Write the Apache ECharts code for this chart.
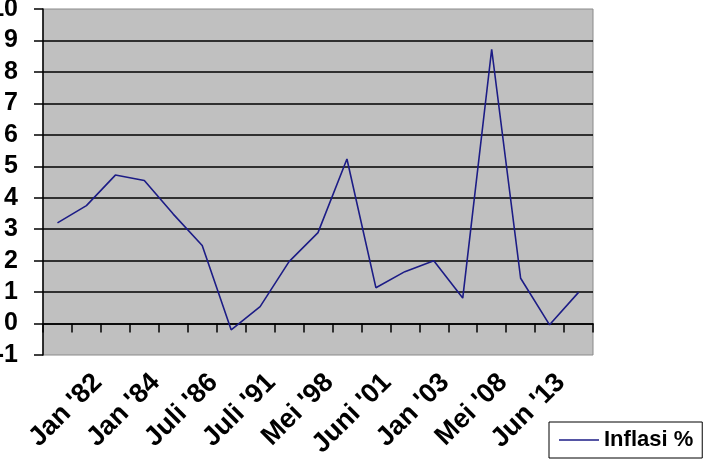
<!DOCTYPE html>
<html>
<head>
<meta charset="utf-8">
<script src="https://cdn.jsdelivr.net/npm/echarts@6/dist/echarts.min.js"></script>
<style>
  html, body { margin: 0; padding: 0; background: #fff; }
  #chart { width: 717px; height: 464px; }
</style>
</head>
<body>
<div id="chart"></div>
<script>
// one label every other period, the rest unlabeled in the source
var categories = ['', "Jan '82", '', "Jan '84", '', "Juli '86", '', "Juli '91", '', "Mei '98",
                  '', "Juni '01", '', "Jan '03", '', "Mei '08", '', "Jun '13", ''];
var inflasi = [3.2, 3.75, 4.72, 4.55, 3.48, 2.48, -0.2, 0.54, 1.97, 2.89,
               5.23, 1.14, 1.65, 2.0, 0.81, 8.72, 1.44, -0.04, 0.99];
var seriesName = 'Inflasi %';
var yMin = -1, yMax = 10, yStep = 1;

var font = 'Liberation Sans, Arial, sans-serif';

function cal_option() {
    return {
        animation: false,
        backgroundColor: '#fff',
        grid: {
            left: 43, right: 124, top: 9, bottom: 109,
            containLabel: false,
            outerBoundsMode: 'none',
            show: true,
            backgroundColor: '#c0c0c0',
            borderColor: '#8a8a8a',
            borderWidth: 1
        },
        legend: {
            left: 549, top: 422,
            borderColor: '#000', borderWidth: 1,
            padding: [7, 9, 7, 10],
            icon: 'rect',
            itemWidth: 40, itemHeight: 1.6,
            textStyle: { fontFamily: font, fontWeight: 'bold', fontSize: 22, color: '#000' },
            data: [seriesName]
        },
        xAxis: [
            {
                // axis line crossing at zero, with ticks between categories
                type: 'category',
                data: categories,
                boundaryGap: true,
                axisLine: { onZero: true, lineStyle: { color: '#000', width: 1.5 } },
                axisTick: { show: true, interval: 0, length: 9, lineStyle: { color: '#000', width: 1.5 } },
                axisLabel: { show: false },
                splitLine: { show: false }
            },
            {
                // labels under the plot area
                type: 'category',
                data: categories,
                position: 'bottom',
                boundaryGap: true,
                axisLine: { show: false, onZero: false },
                axisTick: { show: false },
                axisLabel: {
                    interval: 0, rotate: 45,
                    margin: 12, verticalAlign: 'top', lineHeight: 32,
                    fontFamily: font, fontWeight: 'bold', fontSize: 27, color: '#000'
                },
                splitLine: { show: false }
            }
        ],
        yAxis: {
            type: 'value',
            min: yMin, max: yMax, interval: yStep,
            axisLine: { show: true, lineStyle: { color: '#000', width: 1.5 } },
            axisTick: { show: true, length: 9, lineStyle: { color: '#000', width: 1.5 } },
            axisLabel: { margin: 25, fontFamily: font, fontWeight: 'bold', fontSize: 25, color: '#000' },
            splitLine: {
                show: true, showMinLine: false, showMaxLine: false,
                lineStyle: { color: '#000', width: 1.5 }
            }
        },
        series: [
            {
                name: seriesName,
                type: 'line',
                xAxisIndex: 0,
                symbol: 'none',
                lineStyle: { color: '#1c1c86', width: 1.6 },
                itemStyle: { color: '#1c1c86' },
                data: inflasi
            }
        ]
    };
}

var myChart = echarts.init(document.getElementById('chart'));
myChart.setOption(cal_option());
</script>
</body>
</html>
